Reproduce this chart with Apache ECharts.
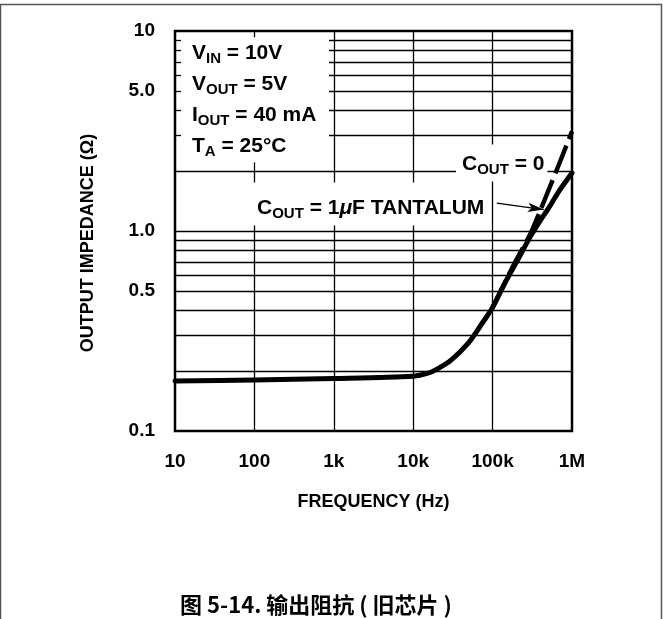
<!DOCTYPE html>
<html><head><meta charset="utf-8">
<script src="https://cdn.jsdelivr.net/npm/echarts@6/dist/echarts.min.js"></script>
<style>html,body{margin:0;padding:0;background:#fff}#c{width:663px;height:619px}</style>
</head><body><div id="c"></div>
<script>
// ---- data ----
const freq = [10, 100, 1000, 10000, 15000, 20000, 30000, 50000, 70000, 100000, 150000, 200000, 300000, 400000, 500000, 700000, 1000000];
const zTantalum = [0.178, 0.180, 0.183, 0.188, 0.194, 0.204, 0.226, 0.277, 0.335, 0.415, 0.57, 0.70, 0.94, 1.13, 1.29, 1.60, 1.95];
const zNoCap = [0.178, 0.180, 0.183, 0.188, 0.194, 0.204, 0.226, 0.277, 0.335, 0.415, 0.575, 0.72, 0.97, 1.27, 1.58, 2.20, 3.15];
const noCapFromFreq = 100000; // below this the two curves coincide
const xTickValues = [10, 100, 1000, 10000, 100000, 1000000];
const xTickLabels = ['10', '100', '1k', '10k', '100k', '1M'];
const yTickValues = [0.1, 0.5, 1, 5, 10];
const yTickLabels = ['0.1', '0.5', '1.0', '5.0', '10'];
const yGridFull = [0.2, 0.3, 0.4, 0.5, 0.6, 0.7, 0.8, 0.9, 1, 2];
const yGridUpper = [3, 4, 5, 6, 7, 8, 9];
const xGridFull = [1000, 10000, 100000];
const xGridLower = [100];
const conditions = [['V', 'IN', ' = 10V'], ['V', 'OUT', ' = 5V'], ['I', 'OUT', ' = 40 mA'], ['T', 'A', ' = 25°C']];
const arrowFrom = [113000, 1.38];
const arrowTo = [440000, 1.28];

const FONT = '"Liberation Sans", Arial, Helvetica, sans-serif';
const chart = echarts.init(document.getElementById('c'), null, { renderer: 'canvas' });

function lbl(list, v) {
  return list.findIndex(t => Math.abs(Math.log10(t) - Math.log10(v)) < 1e-6);
}

const gridLines = [];
yGridFull.forEach(v => gridLines.push([{ coord: [10, v] }, { coord: [1e6, v] }]));
yGridUpper.forEach(v => {
  gridLines.push([{ coord: [870, v] }, { coord: [1e6, v] }]);
  gridLines.push([{ coord: [10, v] }, { coord: [11.9, v] }]);
});
xGridFull.forEach(x => gridLines.push([{ coord: [x, 0.1] }, { coord: [x, 10] }]));
xGridLower.forEach(x => {
  gridLines.push([{ coord: [x, 0.1] }, { coord: [x, 2.2] }]);
  gridLines.push([{ coord: [x, 9.3] }, { coord: [x, 10] }]);
});

const tantalumData = freq.map((f, i) => [f, zTantalum[i]]);
const noCapData = freq.map((f, i) => [f, zNoCap[i]]).filter(p => p[0] >= noCapFromFreq);

const option = {
  animation: false,
  backgroundColor: '#fff',
  grid: { left: 175, top: 31, width: 397, height: 400, show: true, borderColor: '#000', borderWidth: 2.5, backgroundColor: '#fff' },
  xAxis: {
    type: 'log', logBase: 10, min: 10, max: 1e6,
    axisLine: { show: false }, axisTick: { show: false }, splitLine: { show: false },
    axisLabel: {
      margin: 21, color: '#000', fontFamily: FONT, fontWeight: 'bold', fontSize: 19,
      showMinLabel: true, showMaxLabel: true,
      formatter: v => { const i = lbl(xTickValues, v); return i >= 0 ? xTickLabels[i] : ''; }
    },
    name: 'FREQUENCY (Hz)', nameLocation: 'middle', nameGap: 62,
    nameTextStyle: { color: '#000', fontFamily: FONT, fontWeight: 'bold', fontSize: 18 }
  },
  yAxis: {
    type: 'log', logBase: 10, min: 0.1, max: 10,
    axisLine: { show: false }, axisTick: { show: false }, splitLine: { show: false },
    axisLabel: {
      margin: 20, color: '#000', fontFamily: FONT, fontWeight: 'bold', fontSize: 19,
      showMinLabel: true, showMaxLabel: true,
      formatter: v => { const i = lbl(yTickValues, v); return i >= 0 ? yTickLabels[i] : ''; }
    }
  },
  series: [
    {
      type: 'line', name: 'grid', data: [], z: 1, silent: true,
      markLine: {
        silent: true, symbol: ['none', 'none'], label: { show: false },
        lineStyle: { color: '#000', width: 1.3, type: 'solid' },
        emphasis: { disabled: true },
        data: gridLines
      }
    },
    {
      type: 'line', name: 'COUT = 1μF TANTALUM', z: 10,
      data: tantalumData,
      showSymbol: false, smooth: 0.3,
      lineStyle: { color: '#000', width: 5, type: 'solid', cap: 'round', join: 'round' },
      markLine: {
        silent: true, symbol: ['none', 'arrow'], symbolSize: [7, 16], label: { show: false },
        lineStyle: { color: '#000', width: 1.3, type: 'solid' },
        data: [[{ coord: arrowFrom }, { coord: arrowTo }]]
      }
    },
    {
      type: 'line', name: 'COUT = 0', z: 11,
      data: noCapData,
      showSymbol: false, smooth: 0.3,
      lineStyle: { color: '#000', width: 4.5, type: [30, 7] }
    }
  ]
};
chart.setOption(option);

const toPx = p => chart.convertToPixel({ gridIndex: 0 }, p);
const g = [];
g.push({ type: 'rect', z: 0, shape: { x: 0.5, y: 4.5, width: 661, height: 700 }, style: { fill: 'none', stroke: '#555', lineWidth: 1.5 } });
[5, 0.5].forEach(v => {
  const p = toPx([10, v]);
  const i = lbl(yTickValues, v);
  g.push({ type: 'text', z: 5, x: p[0] - 20, y: p[1], style: { text: yTickLabels[i], font: 'bold 19px ' + FONT, fill: '#000', align: 'right', verticalAlign: 'middle', textAlign: 'right', textVerticalAlign: 'middle' } });
});
g.push({ type: 'text', z: 5, x: 88, y: 243, rotation: Math.PI / 2,
  style: { text: 'OUTPUT IMPEDANCE (Ω)', font: 'bold 18px ' + FONT, fill: '#000', align: 'center', verticalAlign: 'middle', textAlign: 'center', textVerticalAlign: 'middle' } });

const rich = {
  m: { fontFamily: FONT, fontWeight: 'bold', fontSize: 21, lineHeight: 26, color: '#000' },
  s: { fontFamily: FONT, fontWeight: 'bold', fontSize: 15, lineHeight: 16, verticalAlign: 'bottom', color: '#000' },
  mu: { fontFamily: FONT, fontWeight: 'bold', fontStyle: 'italic', fontSize: 21, lineHeight: 26, color: '#000' }
};
const condY = [53, 84, 115, 146];
conditions.forEach((c, i) => {
  g.push({ type: 'text', z: 5, x: 192, y: condY[i],
    style: { text: '{m|' + c[0] + '}{s|' + c[1] + '}{m|' + c[2] + '}', rich: rich, align: 'left', verticalAlign: 'middle', textAlign: 'left', textVerticalAlign: 'middle' } });
});
g.push({ type: 'text', z: 5, x: 456, y: 163,
  style: { text: '{m|C}{s|OUT}{m| = 0}', rich: rich, backgroundColor: '#fff', padding: [7, 3, 4, 6], align: 'left', verticalAlign: 'middle', textAlign: 'left', textVerticalAlign: 'middle' } });
g.push({ type: 'text', z: 5, x: 252, y: 204,
  style: { text: '{m|C}{s|OUT}{m| = 1}{mu|μ}{m|F TANTALUM}', rich: rich, backgroundColor: '#fff', padding: [13, 4, 4, 5], align: 'left', verticalAlign: 'middle', textAlign: 'left', textVerticalAlign: 'middle' } });
g.push({ type: 'text', z: 5, x: 316, y: 605,
  style: { text: '图 5-14. 输出阻抗 ( 旧芯片 )', font: 'bold 22px "Noto Sans CJK SC", "Liberation Sans", sans-serif', fill: '#000', align: 'center', verticalAlign: 'middle', textAlign: 'center', textVerticalAlign: 'middle' } });

chart.setOption({ graphic: { elements: g } });
</script>
</body></html>
